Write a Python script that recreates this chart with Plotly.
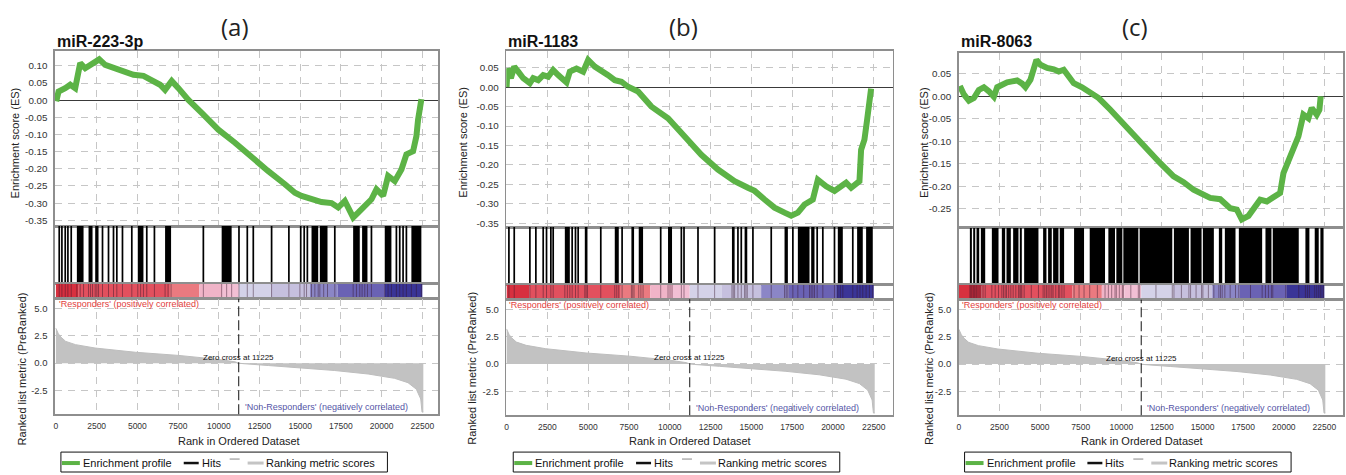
import plotly.graph_objects as go

# ---------------- data ----------------
panel_letters = ["(a)", "(b)", "(c)"]
gene_sets = ["miR-223-3p", "miR-1183", "miR-8063"]

x_ticks = [0, 2500, 5000, 7500, 10000, 12500, 15000, 17500, 20000, 22500]
es_ticks = [
    [0.10, 0.05, 0.00, -0.05, -0.10, -0.15, -0.20, -0.25, -0.30, -0.35],
    [0.05, 0.00, -0.05, -0.10, -0.15, -0.20, -0.25, -0.30, -0.35],
    [0.05, 0.00, -0.05, -0.10, -0.15, -0.20, -0.25],
]
metric_ticks = [5.0, 2.5, 0.0, -2.5]

es_rank_a = [20, 163, 572, 879, 1185, 1492, 1799, 2207, 2657, 3025, 3638, 4251, 4762, 5375, 5886,
             6397, 6703, 7112, 7521, 8134, 8951, 9973, 10995, 12017, 13039, 14061, 14674, 15083,
             15696, 16309, 16922, 17331, 17740, 18251, 18558, 18967, 19375, 19682, 20091, 20397,
             20806, 21215, 21521, 21930, 22134, 22237, 22339, 22441]
es_val_a = [-0.003, 0.025, 0.035, 0.045, 0.035, 0.108, 0.093, 0.108, 0.119, 0.103, 0.093, 0.084,
            0.074, 0.071, 0.059, 0.045, 0.030, 0.056, 0.035, 0.001, -0.037, -0.086, -0.124,
            -0.168, -0.207, -0.245, -0.270, -0.279, -0.287, -0.297, -0.300, -0.313, -0.294,
            -0.342, -0.328, -0.308, -0.289, -0.260, -0.279, -0.221, -0.236, -0.202, -0.158,
            -0.149, -0.105, -0.057, -0.018, 0.003]

es_rank_b = [0, 61, 265, 469, 714, 1020, 1428, 1632, 1938, 2244, 2550, 2856, 3162, 3672, 3876,
             4284, 4692, 4998, 5406, 5814, 6222, 6630, 7038, 7446, 7752, 8058, 8874, 9894, 10914,
             11934, 12954, 13974, 14790, 15198, 15810, 16422, 17034, 17442, 17850, 18258, 18768,
             19074, 19584, 20094, 20502, 20808, 21114, 21420, 21624, 21726, 21930, 22093, 22236,
             22338]
es_val_b = [0.0, 0.048, 0.023, 0.053, 0.04, 0.023, 0.01, 0.023, 0.018, 0.031, 0.027, 0.044, 0.031,
            0.012, 0.04, 0.048, 0.04, 0.07, 0.053, 0.044, 0.031, 0.018, 0.014, 0.001, -0.007,
            -0.011, -0.05, -0.08, -0.127, -0.174, -0.212, -0.242, -0.259, -0.267, -0.289, -0.31,
            -0.323, -0.331, -0.323, -0.302, -0.289, -0.238, -0.255, -0.267, -0.255, -0.246,
            -0.259, -0.25, -0.242, -0.161, -0.135, -0.084, -0.024, -0.004]

es_rank_c = [61, 307, 615, 922, 1229, 1537, 1844, 2152, 2357, 2664, 2971, 3279, 3586, 3894, 4099,
             4406, 4611, 4775, 5021, 5431, 5841, 6148, 6455, 6763, 7070, 7582, 8095, 8607, 9324,
             10349, 11374, 12398, 13218, 13833, 14447, 14857, 15472, 16087, 16702, 17112, 17419,
             17829, 18136, 18546, 18956, 19366, 19776, 19981, 20288, 20596, 20903, 21210, 21518,
             21723, 22030, 22194, 22276]
es_val_c = [0.023, 0.004, -0.010, -0.004, 0.014, 0.020, 0.011, -0.001, 0.020, 0.026, 0.031, 0.033,
            0.035, 0.028, 0.020, 0.037, 0.063, 0.081, 0.070, 0.063, 0.060, 0.055, 0.059, 0.046,
            0.029, 0.020, 0.007, -0.004, -0.030, -0.071, -0.111, -0.149, -0.178, -0.191, -0.208,
            -0.214, -0.226, -0.229, -0.249, -0.252, -0.274, -0.266, -0.249, -0.230, -0.234,
            -0.226, -0.215, -0.171, -0.141, -0.111, -0.089, -0.041, -0.049, -0.026, -0.041,
            -0.030, 0.0]

# hit positions as (first rank, last rank) of each hit / block of adjacent hits
hits_a = [(204, 204), (368, 368), (572, 572), (736, 736), (940, 940), (1287, 1697), (2003, 2248),
          (2412, 2616), (2861, 2861), (3229, 3229), (3536, 3536), (3740, 3740), (4087, 4087),
          (4660, 4660), (5027, 5374), (5579, 5579), (6049, 6049), (6703, 7071), (9053, 9053),
          (10177, 10790), (11240, 11240), (11751, 11751), (12119, 12119), (13243, 13243),
          (14305, 14305), (14980, 15082), (15245, 15245), (15388, 15490), (15695, 16104),
          (16206, 16676), (17124, 17124), (18250, 18657), (18800, 19129), (19374, 19374),
          (20191, 20600), (20906, 20906), (21111, 21111), (21316, 21316), (21520, 21520),
          (21826, 22439)]
hits_b = [(143, 143), (469, 469), (1428, 1428), (1795, 1795), (2244, 2244), (2448, 2448),
          (2713, 2713), (2856, 2856), (3570, 3876), (4019, 4019), (4223, 4223), (4386, 4386),
          (4794, 4957), (5773, 5773), (6630, 6875), (7079, 7079), (7650, 7813), (8099, 8364),
          (9445, 9445), (9894, 10139), (10710, 10710), (10873, 10873), (11730, 11730),
          (12750, 12750), (13811, 13974), (14178, 14178), (14382, 14382), (14586, 14749),
          (15096, 15096), (16218, 16218), (17034, 17238), (17544, 17544), (17850, 18564),
          (18666, 18870), (19033, 19033), (19380, 19380), (20094, 20094), (20298, 20604),
          (21216, 21216), (21481, 21828), (22032, 22440)]
hits_c = [(676, 799), (881, 1004), (1086, 1250), (1353, 1619), (2029, 2439), (2644, 2848),
          (2931, 3197), (3340, 3668), (3750, 3873), (4017, 4898), (5185, 5390), (5492, 5718),
          (5800, 6128), (6209, 6476), (7091, 7705), (8054, 8996), (9202, 9611), (9693, 10062),
          (10124, 11046), (11128, 13136), (13238, 14161), (14263, 14940), (15021, 15697),
          (16005, 16210), (16374, 17030), (17235, 18670), (18874, 19242), (19324, 20924),
          (21333, 21579), (21907, 22153), (22256, 22450)]

# ranked list metric (same ranked list for all three panels)
metric_rank = [0, 150, 300, 600, 1200, 2400, 4870, 7530, 10000, 11000, 11225, 11500, 13040,
               15080, 17120, 19170, 20800, 21620, 22130, 22400, 22480, 22560]
metric_val = [3.2, 2.7, 2.4, 2.0, 1.7, 1.39, 1.0, 0.71, 0.34, 0.12, 0.0, -0.05, -0.22, -0.43,
              -0.68, -1.0, -1.4, -1.8, -2.4, -3.3, -4.5, -4.5]
zero_cross = 11225

# colour band of the ranked list
band_start = [0, 1400, 7000, 8800, 10200, 11225, 13200, 15600, 17300, 20200]
band_end = [1400, 7000, 8800, 10200, 11225, 13200, 15600, 17300, 20200, 22500]
band_colors = ["#d7303f", "#e2505e", "#ea7a80", "#f0b4c8", "#f2bfd4", "#d4d2e8", "#c6c0de",
               "#8b86c6", "#6a62b4", "#3a3597"]

legend_labels = ["Enrichment profile", "Hits", "Ranking metric scores"]

# ---------------- layout geometry ----------------
W, H = 1346, 475
GREEN = "#5cb346"
FRAME = "#8e8e8e"
GRID = "#c6c6c6"
FONT = "Liberation Sans, Arial, Helvetica, sans-serif"
metric_range = [-4.7, 5.92]

geo = [
    dict(l=53, r=437, xr=[-61, 23482], rows=[51, 227, 285, 300, 416], es_range=[-0.367, 0.144],
         letter_x=233, es_title_x=13, met_title_x=20, legend_l=59),
    dict(l=505, r=892, xr=[-20, 23660], rows=[51, 228, 286, 300.5, 417], es_range=[-0.360, 0.0936],
         letter_x=683, es_title_x=462, met_title_x=471, legend_l=512),
    dict(l=958, r=1343, xr=[-20, 23648], rows=[53, 228.5, 286, 301, 417], es_range=[-0.292, 0.0967],
         letter_x=1135, es_title_x=924, met_title_x=929, legend_l=964),
]
es_data = [(es_rank_a, es_val_a), (es_rank_b, es_val_b), (es_rank_c, es_val_c)]
hits_data = [hits_a, hits_b, hits_c]


def px_x(p):
    return p / W


def px_y(p):
    return 1 - p / H


def axn(k):
    return "" if k == 1 else str(k)


fig = go.Figure()
layout = {}
shapes = []
annotations = []

for p in range(3):
    g = geo[p]
    rows = g["rows"]
    ks = [p * 4 + r + 1 for r in range(4)]
    names = [axn(k) for k in ks]
    yranges = [g["es_range"], [0, 1], [0, 1], metric_range]
    for r, n in enumerate(names):
        layout["xaxis" + n] = dict(
            domain=[px_x(g["l"]), px_x(g["r"])], anchor="y" + n, range=g["xr"],
            showline=True, mirror=True, linecolor=FRAME, linewidth=1.5,
            ticks="", showticklabels=(r == 3), tickvals=x_ticks,
            ticktext=[str(v) for v in x_ticks], ticklabelstandoff=3,
            showgrid=(r in (0, 3)), gridcolor=GRID, griddash="7px,6px", gridwidth=1,
            zeroline=False, tickfont=dict(family=FONT, size=8.5, color="#333"), fixedrange=True,
        )
        yd = dict(
            domain=[px_y(rows[r + 1]), px_y(rows[r])], anchor="x" + n, range=yranges[r],
            showline=True, mirror=True, linecolor=FRAME, linewidth=1.5, ticks="",
            zeroline=False, showgrid=False, showticklabels=False, fixedrange=True,
            tickfont=dict(family=FONT, size=9, color="#333"), ticklabelstandoff=4,
        )
        if r == 0:
            yd.update(tickvals=es_ticks[p], ticktext=[f"{v:.2f}" for v in es_ticks[p]],
                      showticklabels=True, showgrid=True, gridcolor=GRID, griddash="7px,6px",
                      zeroline=True, zerolinecolor="#3a3a3a", zerolinewidth=1,
                      tickfont=dict(family=FONT, size=9.8, color="#333"))
        if r == 3:
            yd.update(tickvals=metric_ticks, ticktext=[f"{v:.1f}" for v in metric_ticks],
                      showticklabels=True, showgrid=True, gridcolor=GRID, griddash="7px,6px",
                      tickfont=dict(family=FONT, size=9.5, color="#333"))
        layout["yaxis" + n] = yd

    n_es, n_hit, n_cb, n_met = names

    # metric area
    fig.add_trace(go.Scatter(x=metric_rank, y=metric_val, mode="lines", fill="tozeroy",
                             fillcolor="#c2c2c2", line=dict(color="#bdbdbd", width=1),
                             xaxis="x" + n_met, yaxis="y" + n_met, showlegend=False,
                             hoverinfo="skip"))
    # enrichment profile
    er, ev = es_data[p]
    fig.add_trace(go.Scatter(x=er, y=ev, mode="lines", line=dict(color=GREEN, width=6),
                             xaxis="x" + n_es, yaxis="y" + n_es, showlegend=False))
    # hits
    hs = hits_data[p]
    fig.add_trace(go.Bar(x=[(s + e) / 2 for s, e in hs], y=[1] * len(hs), base=0,
                         width=[max(e - s, 105) for s, e in hs],
                         marker=dict(color="black", line=dict(width=0)),
                         xaxis="x" + n_hit, yaxis="y" + n_hit, showlegend=False))
    # colour band
    fig.add_trace(go.Bar(x=[(s + e) / 2 for s, e in zip(band_start, band_end)],
                         y=[1] * len(band_start), base=0,
                         width=[e - s for s, e in zip(band_start, band_end)],
                         marker=dict(color=band_colors, line=dict(width=0)),
                         xaxis="x" + n_cb, yaxis="y" + n_cb, showlegend=False))
    lx, ly = [], []
    for s, e in hs:
        for v in ([s] if e - s < 110 else [s, (s + e) / 2, e]):
            lx += [v, v, None]
            ly += [0, 1, None]
    fig.add_trace(go.Scatter(x=lx, y=ly, mode="lines",
                             line=dict(color="rgba(50,20,40,0.45)", width=1),
                             xaxis="x" + n_cb, yaxis="y" + n_cb, showlegend=False,
                             hoverinfo="skip"))

    # zero-cross marker
    shapes.append(dict(type="line", xref="x" + n_met, yref=f"y{n_met} domain",
                       x0=zero_cross, x1=zero_cross, y0=0, y1=1,
                       line=dict(color="#111", width=1, dash="10px,4px")))
    annotations.append(dict(xref="x" + n_met, yref="y" + n_met, x=zero_cross, y=0.55,
                            text=f"Zero cross at {zero_cross}", showarrow=False,
                            font=dict(family=FONT, size=8, color="#111"),
                            xanchor="center", yanchor="middle"))
    annotations.append(dict(xref="x" + n_met, yref="y" + n_met, x=40, y=5.42,
                            text="'Responders' (positively correlated)", showarrow=False,
                            font=dict(family=FONT, size=9, color="#e2403c"),
                            xanchor="left", yanchor="middle"))
    annotations.append(dict(xref="x" + n_met, yref="y" + n_met, x=21720, y=-4.06,
                            text="'Non-Responders' (negatively correlated)", showarrow=False,
                            font=dict(family=FONT, size=9, color="#5656a8"),
                            xanchor="right", yanchor="middle"))
    # titles
    annotations.append(dict(xref="paper", yref="paper", x=px_x(g["letter_x"]), y=px_y(27),
                            text=panel_letters[p], showarrow=False,
                            font=dict(family="Open Sans, Noto Sans, sans-serif", size=24,
                                      color="#222"),
                            xanchor="center", yanchor="middle"))
    annotations.append(dict(xref="paper", yref="paper", x=px_x(g["l"]), y=px_y(42),
                            text=f"<b>{gene_sets[p]}</b>", showarrow=False,
                            font=dict(family=FONT, size=16, color="#111"),
                            xanchor="left", yanchor="middle"))
    annotations.append(dict(xref="paper", yref="paper", x=px_x(g["es_title_x"]), y=px_y(143),
                            text="Enrichment score (ES)", textangle=-90, showarrow=False,
                            font=dict(family=FONT, size=11, color="#222"),
                            xanchor="center", yanchor="middle"))
    annotations.append(dict(xref="paper", yref="paper", x=px_x(g["met_title_x"]), y=px_y(370),
                            text="Ranked list metric (PreRanked)", textangle=-90,
                            showarrow=False, font=dict(family=FONT, size=11, color="#222"),
                            xanchor="center", yanchor="middle"))
    annotations.append(dict(xref="x" + n_met, yref="paper", x=11250, y=px_y(443),
                            text="Rank in Ordered Dataset", showarrow=False,
                            font=dict(family=FONT, size=11, color="#222"),
                            xanchor="center", yanchor="middle"))

    # legend box
    L = g["legend_l"]
    yc = 465
    shapes.append(dict(type="rect", xref="paper", yref="paper", x0=px_x(L), x1=px_x(L + 327),
                       y0=px_y(474), y1=px_y(454), line=dict(color="#111", width=1)))
    shapes.append(dict(type="line", xref="paper", yref="paper", x0=px_x(L + 1), x1=px_x(L + 19),
                       y0=px_y(yc), y1=px_y(yc), line=dict(color=GREEN, width=4)))
    shapes.append(dict(type="line", xref="paper", yref="paper", x0=px_x(L + 123),
                       x1=px_x(L + 138), y0=px_y(yc), y1=px_y(yc),
                       line=dict(color="#111", width=2.5)))
    shapes.append(dict(type="line", xref="paper", yref="paper", x0=px_x(L + 169),
                       x1=px_x(L + 179), y0=px_y(yc - 4), y1=px_y(yc - 4),
                       line=dict(color="#888", width=1)))
    shapes.append(dict(type="line", xref="paper", yref="paper", x0=px_x(L + 187),
                       x1=px_x(L + 203), y0=px_y(yc), y1=px_y(yc),
                       line=dict(color="#c4c4c4", width=3)))
    for txt, off in zip(legend_labels, [20, 139, 203]):
        annotations.append(dict(xref="paper", yref="paper", x=px_x(L + off), y=px_y(yc),
                                text=txt, showarrow=False,
                                font=dict(family=FONT, size=11, color="#111"),
                                xanchor="left", yanchor="middle"))

fig.update_layout(
    width=W, height=H, autosize=False,
    margin=dict(l=0, r=0, t=0, b=0),
    paper_bgcolor="white", plot_bgcolor="white",
    font=dict(family=FONT, size=10, color="#222"),
    barmode="overlay", showlegend=False,
    shapes=shapes, annotations=annotations,
    **layout,
)

fig.write_html(
    "out.html",
    config=dict(displayModeBar=False, staticPlot=True),
    post_script="document.body.style.margin='0px';document.body.style.overflow='hidden';",
)
